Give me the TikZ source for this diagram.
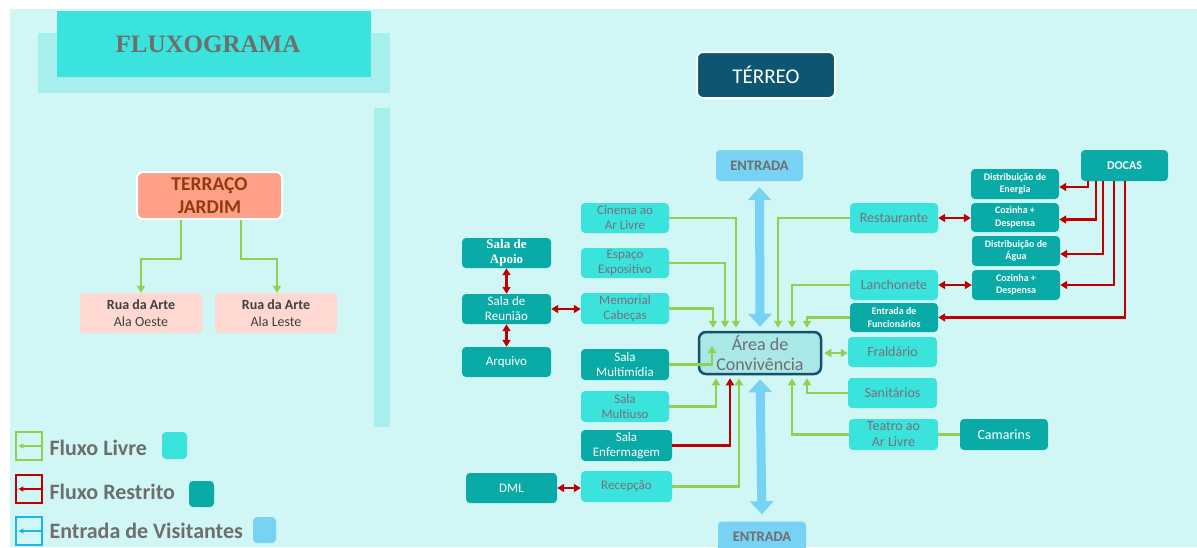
\documentclass[tikz,border=0pt]{standalone}
\usepackage{fontspec}
\setmainfont{Carlito}
\newfontfamily\tnr{Liberation Serif}
\usetikzlibrary{arrows.meta}
\definecolor{fundo}{HTML}{D0F7F5}
\definecolor{faixa}{HTML}{A6EFEC}
\definecolor{claro}{HTML}{3BE3DD}
\definecolor{escuro}{HTML}{0AABA6}
\definecolor{azulE}{HTML}{77D2F3}
\definecolor{azulL}{HTML}{1EB4EE}
\definecolor{azulT}{HTML}{0C5670}
\definecolor{salmao}{HTML}{FF9F88}
\definecolor{marrom}{HTML}{8E3C0C}
\definecolor{rosa}{HTML}{FFD8D1}
\definecolor{verde}{HTML}{92D050}
\definecolor{vermelho}{HTML}{C00000}
\definecolor{cinza}{HTML}{6E6E6E}
\definecolor{txtcx}{HTML}{77707B}
\definecolor{areaF}{HTML}{A9E8E6}
\definecolor{areaB}{HTML}{16506A}
\tikzset{
  caixa/.style={rounded corners=4pt,minimum width=88pt,minimum height=30pt,inner sep=1pt,align=center,font=\fontsize{13}{15}\selectfont},
  clara/.style={caixa,fill=claro,text=txtcx},
  escura/.style={caixa,fill=escuro,text=white},
  miuda/.style={font=\bfseries\fontsize{10}{12.5}\selectfont},
  azul/.style={caixa,fill=azulE,text=cinza,font=\bfseries\fontsize{14.5}{16}\selectfont},
  ponta/.tip={Triangle[length=7pt,width=8pt]},
  livre/.style={draw=verde,line width=2.2pt,-ponta},
  livre2/.style={livre,ponta-ponta},
  restrito/.style={draw=vermelho,line width=2.2pt,-ponta},
  restrito2/.style={restrito,ponta-ponta},
  visita/.style={draw=azulE,line width=9pt,{Triangle[length=13pt,width=23pt]}-{Triangle[length=13pt,width=23pt]}},
  legenda/.style={anchor=west,text=cinza,font=\bfseries\fontsize{22}{26}\selectfont}
}
\begin{document}
\begin{tikzpicture}[x=1pt,y=-1pt]
\useasboundingbox (0,0) rectangle (1197,547);
% fundo
\fill[fundo] (10,9) rectangle (1197,547);
\fill[faixa] (38,33) rectangle (390,93);
\fill[faixa] (374,108) rectangle (390,427);
\fill[claro] (57,11) rectangle (371,77);
\node[text=cinza,font=\tnr\bfseries\fontsize{25}{28}\selectfont] (TIT) at (208,44) {FLUXOGRAMA};

% terraco
\node[fill=salmao,draw=white,line width=2pt,rounded corners=6pt,minimum width=145pt,minimum height=47pt,inner sep=0pt,align=center,text=marrom,font=\bfseries\fontsize{19.5}{23}\selectfont] (TER) at (209.5,195.5) {TERRAÇO\\JARDIM};
\node[caixa,fill=rosa,minimum width=122pt,minimum height=40pt,text=black!75,font=\fontsize{14}{17}\selectfont] (RUAO) at (141,313) {\textbf{Rua da Arte}\\Ala Oeste};
\node[caixa,fill=rosa,minimum width=122pt,minimum height=40pt,text=black!75,font=\fontsize{14}{17}\selectfont] (RUAL) at (276,313) {\textbf{Rua da Arte}\\Ala Leste};
\draw[livre] ([xshift=-28.5pt]TER.south) -- ++(0,39) -| (RUAO.north);
\draw[livre] ([xshift=31.5pt]TER.south) -- ++(0,39) -| ([xshift=1pt]RUAL.north);

% legenda
\node[draw=verde,line width=1.2pt,minimum width=26pt,minimum height=28pt] (LG1) at (29,446) {};
\node[draw=vermelho,line width=1.2pt,minimum width=26pt,minimum height=28pt] (LG2) at (29,489) {};
\node[draw=azulL,line width=1.2pt,minimum width=26pt,minimum height=28pt] (LG3) at (29,531) {};
\draw[draw=verde,line width=1.2pt,-{Triangle[length=5pt,width=5pt]}] (LG1.east) -- ([xshift=3pt]LG1.west);
\draw[draw=vermelho,line width=1.2pt,-{Triangle[length=5pt,width=5pt]}] (LG2.east) -- ([xshift=3pt]LG2.west);
\draw[draw=azulL,line width=1.2pt,-{Triangle[length=5pt,width=5pt]}] (LG3.east) -- ([xshift=3pt]LG3.west);
\node[legenda] (TL1) at (46,448) {Fluxo Livre};
\node[legenda] (TL2) at (46,492) {Fluxo Restrito};
\node[legenda] (TL3) at (46,531) {Entrada de Visitantes};
\node[fill=claro,rounded corners=4pt,minimum width=25pt,minimum height=27pt] (Q1) at (174.5,445.5) {};
\node[fill=escuro,rounded corners=4pt,minimum width=25pt,minimum height=26pt] (Q2) at (201.5,494) {};
\node[fill=azulE,rounded corners=4pt,minimum width=23pt,minimum height=26pt] (Q3) at (264.5,530) {};

% terreo
\node[fill=azulT,draw=white,line width=2pt,rounded corners=6pt,minimum width=138pt,minimum height=46pt,text=white,font=\fontsize{21}{24}\selectfont] (TRR) at (766,75) {TÉRREO};
\node[azul,minimum width=87pt,minimum height=31pt] (ENT1) at (759.5,165.5) {ENTRADA};
\node[azul,minimum width=88pt,minimum height=31pt] (ENT2) at (762,537) {ENTRADA};
\node[fill=areaF,draw=areaB,line width=2.5pt,rounded corners=7pt,minimum width=122pt,minimum height=42pt,align=center,text=cinza,inner sep=0pt,font=\fontsize{18}{20}\selectfont] (AREA) at (760,353) {Área de\\Convivência};

\node[clara] (CIN) at (625,218) {Cinema ao\\Ar Livre};
\node[clara] (ESP) at (625,263) {Espaço\\Expositivo};
\node[clara,minimum height=31pt] (MEM) at (625,308.5) {Memorial\\Cabeças};
\node[escura,minimum height=31pt] (MUL) at (625,364.5) {Sala\\Multimídia};
\node[clara,minimum height=31pt] (MUS) at (625,406.5) {Sala\\Multiuso};
\node[escura,minimum width=91pt,minimum height=31pt] (ENF) at (626.5,445.5) {Sala\\Enfermagem};
\node[clara,minimum width=91pt,minimum height=31pt] (REC) at (626.5,486.5) {Recepção};
\node[escura,minimum width=91pt] (DML) at (511.5,488) {DML};
\node[escura,minimum width=89pt,font=\tnr\bfseries\fontsize{13}{15}\selectfont] (APO) at (506.5,253) {Sala de\\Apoio};
\node[escura,minimum width=89pt] (REU) at (506.5,309) {Sala de\\Reunião};
\node[escura,minimum width=89pt] (ARQ) at (506.5,362) {Arquivo};

\node[clara,font=\fontsize{14}{16}\selectfont] (RES) at (894,218) {Restaurante};
\node[clara,font=\fontsize{14}{16}\selectfont] (LAN) at (894,285) {Lanchonete};
\node[escura,miuda,minimum height=29pt] (FUN) at (894,317.5) {Entrada de\\Funcionários};
\node[clara,minimum width=89pt,font=\fontsize{14}{16}\selectfont] (FRA) at (892.5,352) {Fraldário};
\node[clara,minimum width=89pt,font=\fontsize{14}{16}\selectfont] (SAN) at (892.5,393) {Sanitários};
\node[clara,minimum width=89pt,minimum height=31pt,font=\fontsize{14}{16}\selectfont] (TEA) at (893.5,434.5) {Teatro ao\\Ar Livre};
\node[escura,minimum height=31pt,font=\fontsize{14}{16}\selectfont] (CAM) at (1004,434.5) {Camarins};

\node[escura,miuda] (ENE) at (1015,184) {Distribuição de\\Energia};
\node[escura,miuda,minimum height=29pt] (CZ1) at (1015,217.5) {Cozinha +\\Despensa};
\node[escura,miuda] (AGU) at (1016,251) {Distribuição de\\Água};
\node[escura,miuda] (CZ2) at (1016,285) {Cozinha +\\Despensa};
\node[escura,minimum width=87pt,minimum height=31pt,font=\bfseries\fontsize{12}{14}\selectfont] (DOC) at (1124.5,165.5) {DOCAS};

% entradas de visitantes
\draw[visita,shorten <=6pt,shorten >=4pt] (ENT1.south) -- (AREA.north);
\draw[visita,shorten <=4pt,shorten >=7pt] (AREA.south) -- (ENT2.north);

% fluxo livre
\draw[livre,shorten >=3pt] (CIN.east) -| ([xshift=-24pt]AREA.north);
\draw[livre,shorten >=3pt] (ESP.east) -| ([xshift=-35pt]AREA.north);
\draw[livre,shorten >=3pt] (MEM.east) -| ([xshift=-47pt]AREA.north);
\draw[livre] (MUL.east) -| ([xshift=-48pt,yshift=7pt]AREA.center);
\draw[livre,shorten >=3pt] (MUS.east) -| ([xshift=-44pt]AREA.south);
\draw[livre,shorten >=3pt] (REC.east) -| ([xshift=-21pt]AREA.south);
\draw[livre,shorten >=3pt] (RES.west) -| ([xshift=18pt]AREA.north);
\draw[livre,shorten >=3pt] (LAN.west) -| ([xshift=32pt]AREA.north);
\draw[livre,shorten >=3pt] (FUN.west) -| ([xshift=47pt]AREA.north);
\draw[livre2,shorten <=2pt] (AREA.east) -- (AREA.east -| FRA.west);
\draw[livre,shorten >=3pt] (SAN.west) -| ([xshift=47pt]AREA.south);
\draw[livre,shorten >=3pt] (TEA.west) -| ([xshift=32pt]AREA.south);
\draw[draw=verde,line width=3pt] (TEA.east) -- (CAM.west);

% fluxo restrito
\draw[restrito,shorten >=3pt] (ENF.east) -| ([xshift=-30pt]AREA.south);
\draw[restrito2] (APO.south) -- (REU.north);
\draw[restrito2] (REU.south) -- (ARQ.north);
\draw[restrito2] (REU.east) -- (REU.east -| MEM.west);
\draw[restrito2] (DML.east) -- (DML.east -| REC.west);
\draw[restrito2] (RES.east) -- (RES.east -| CZ1.west);
\draw[restrito2] (LAN.east) -- (LAN.east -| CZ2.west);
\draw[restrito] ([xshift=-36.5pt]DOC.south) |- ([yshift=-3pt]ENE.east);
\draw[restrito] ([xshift=-28.5pt]DOC.south) |- ([yshift=-2pt]CZ1.east);
\draw[restrito] ([xshift=-21.5pt]DOC.south) |- ([yshift=-3pt]AGU.east);
\draw[restrito] ([xshift=-10.5pt]DOC.south) |- (CZ2.east);
\draw[restrito] ([xshift=0.5pt]DOC.south) |- (FUN.east);
\end{tikzpicture}
\end{document}
